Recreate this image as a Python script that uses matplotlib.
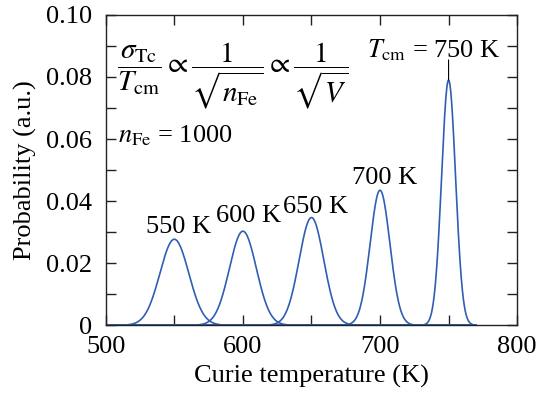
import numpy as np
import matplotlib
matplotlib.use("Agg")
import matplotlib.pyplot as plt
from matplotlib.ticker import MultipleLocator

plt.rcParams['font.family'] = ['Liberation Serif', 'DejaVu Serif']
plt.rcParams['mathtext.fontset'] = 'stix'

# Curie temperature distributions for n_Fe = 1000
t_cm = [550, 600, 650, 700, 750]           # K, centre of each distribution
peak_prob = [0.0277, 0.0303, 0.0347, 0.0435, 0.079]
sigma_tc = [10.5, 9.8, 9.0, 7.2, 5.1]      # K, width of each distribution
peak_labels = ["550 K", "600 K", "650 K", "700 K", "750 K"]

t_min, t_max = 500, 770
line_color = '#2f5eb2'

fig = plt.figure(figsize=(5.37, 4.03), dpi=100)
ax = fig.add_axes([0.197, 0.193, 0.766, 0.770])

temps = np.linspace(t_min, t_max, 1200)
for tc, p, s in zip(t_cm, peak_prob, sigma_tc):
    prob = p * np.exp(-(temps - tc) ** 2 / (2 * s ** 2))
    ax.plot(temps, prob, color=line_color, lw=1.2)

# peak labels
label_pos = [(553, 0.0316), (604, 0.0352), (653, 0.0382), (703, 0.0475)]
for (x, y), txt in zip(label_pos, peak_labels[:4]):
    ax.text(x, y, txt, fontsize=19, ha='center', va='center')

ax.text(739.5, 0.0887, r"$T_{\rm cm}$ = " + peak_labels[4], fontsize=19,
        ha='center', va='center')
ax.annotate('', xy=(t_cm[4], peak_prob[4]), xytext=(t_cm[4], 0.0855),
            arrowprops=dict(arrowstyle='-', color='black', lw=0.8,
                            shrinkA=0, shrinkB=0))

ax.text(508, 0.0805,
        r"$\dfrac{\sigma_{\rm Tc}}{T_{\rm cm}} \propto \dfrac{\ 1\ }{\sqrt{n_{\rm Fe}}}"
        r" \propto \dfrac{\ 1\ }{\sqrt{V}}$",
        fontsize=21, ha='left', va='center')
ax.text(509, 0.061, r"$n_{\rm Fe}$ = 1000", fontsize=19, ha='left', va='center')

ax.set_xlim(500, 800)
ax.set_ylim(0, 0.10)
ax.xaxis.set_major_locator(MultipleLocator(100))
ax.xaxis.set_minor_locator(MultipleLocator(50))
ax.yaxis.set_major_locator(MultipleLocator(0.02))
ax.yaxis.set_minor_locator(MultipleLocator(0.01))
ax.yaxis.set_major_formatter(plt.FuncFormatter(lambda v, _: "0" if v == 0 else f"{v:.2f}"))

ax.tick_params(which='both', direction='in', top=True, right=True,
               length=7, width=1.0, color='#222222', labelsize=19)
ax.tick_params(axis='x', pad=8)
ax.tick_params(axis='y', pad=10)
for sp in ax.spines.values():
    sp.set_linewidth(1.0)
    sp.set_color('#222222')

ax.set_xlabel("Curie temperature (K)", fontsize=19, labelpad=5)
ax.set_ylabel("Probability (a.u.)", fontsize=19, labelpad=6)

fig.savefig("out.png", dpi=100)
